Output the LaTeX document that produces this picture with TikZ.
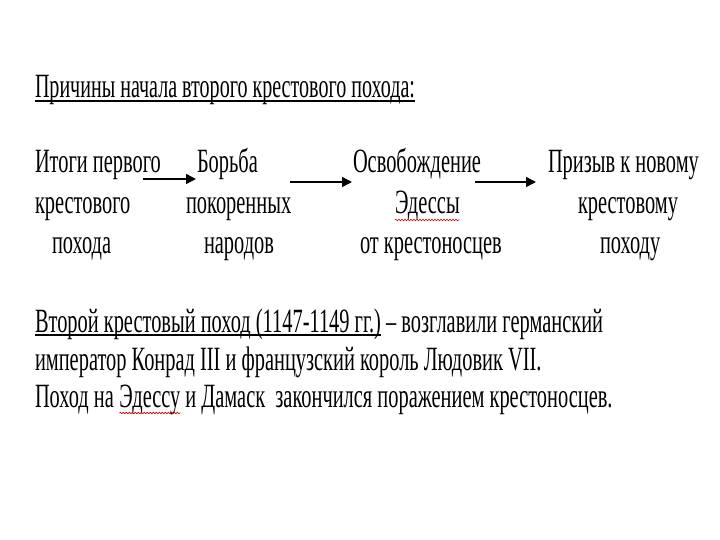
\documentclass[tikz,border=0pt]{standalone}
\usepackage{fontspec}
\setmainfont{Liberation Serif}
\newfontfamily\cond[FakeStretch=0.6]{Liberation Serif}
\newfontfamily\condt[FakeStretch=0.59]{Liberation Serif}
\usetikzlibrary{arrows.meta,decorations.pathmorphing}
\begin{document}
\begin{tikzpicture}[x=1pt,y=-1pt,
  txt/.style={inner sep=0pt, outer sep=0pt, anchor=base west, font=\cond\fontsize{34}{40}\selectfont},
  ttl/.style={txt, font=\condt\fontsize{34}{40}\selectfont},
  arr/.style={line width=1.5pt, -{Triangle[length=10pt,width=10pt]}},
  uline/.style={line width=2pt},
  spell/.style={red!80!black, line width=0.6pt, decorate, decoration={snake, amplitude=0.8pt, segment length=3pt}}]
\fill[white] (0,0) rectangle (720,540);
\useasboundingbox (0,0) rectangle (720,540);
% title
\node[ttl] (title) at (35,98) {Причины начала второго крестового похода:};
\draw[uline] ([yshift=-3pt]title.base west) -- ([yshift=-3pt]title.base east);
% column 1
\node[txt] (c1a) at (35,173) {Итоги первого};
\node[txt] (c1b) at (35,214) {крестового};
\node[txt] (c1c) at (52,254) {похода};
% column 2
\node[txt] (c2a) at (197,173) {Борьба};
\node[txt] (c2b) at (186,214) {покоренных};
\node[txt] (c2c) at (204,254) {народов};
% column 3
\node[txt] (c3a) at (353,173) {Освобождение};
\node[txt] (c3b) at (395,214) {Эдессы};
\node[txt] (c3c) at (360,254) {от крестоносцев};
% column 4
\node[txt] (c4a) at (548,173) {Призыв к новому};
\node[txt] (c4b) at (578,214) {крестовому};
\node[txt] (c4c) at (600,254) {походу};
% arrows
\coordinate (a1s) at (143,179); \coordinate (a1e) at (196,179);
\coordinate (a2s) at (290,182); \coordinate (a2e) at (352,182);
\coordinate (a3s) at (475,182); \coordinate (a3e) at (536,182);
\draw[arr] (a1s) -- (a1e);
\draw[arr] (a2s) -- (a2e);
\draw[arr] (a3s) -- (a3e);
% spell marks
\draw[spell] ([yshift=-6pt]c3b.base west) -- ([yshift=-6pt]c3b.base east);
% block 3
\node[txt] (l1a) at (35,332) {Второй крестовый поход (1147-1149 гг.)};
\node[txt] (l1b) at (l1a.base east) {\ – возглавили германский};
\draw[uline] ([yshift=-3pt]l1a.base west) -- ([yshift=-3pt]l1a.base east);
\node[txt] (l2) at (35,370) {император Конрад III и французский король Людовик VII.};
\node[txt] (l3a) at (35,407) {Поход на\kern5.5pt};
\node[txt] (l3b) at (l3a.base east) {Эдессу};
\node[txt] (l3c) at (l3b.base east) {\ и Дамаск\ \ закончился поражением крестоносцев.};
\draw[spell] ([yshift=-6pt]l3b.base west) -- ([yshift=-6pt]l3b.base east);
\end{tikzpicture}
\end{document}
